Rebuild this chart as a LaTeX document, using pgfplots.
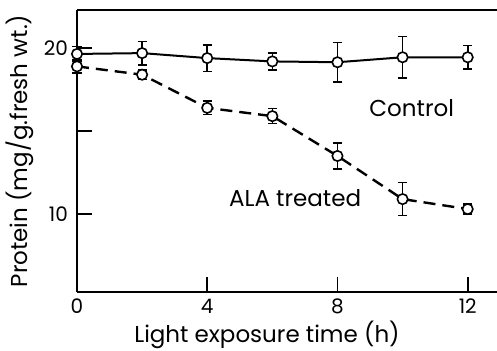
\documentclass[border=0pt]{standalone}
\usepackage{pgfplots}
\pgfplotsset{compat=1.18}
\usepackage{fontspec}
\setmainfont{Poppins}
\begin{document}
\begin{tikzpicture}
\begin{axis}[
  scale only axis, width=210pt, height=141pt,
  xmin=0, xmax=12.9, ymin=5.3, ymax=22.3,
  axis x line=box, axis y line=left,
  axis line style={-, line width=0.9pt},
  xtick={0,4,8,12}, ytick={10,15,20}, yticklabels={10,,20},
  tick align=inside, major tick length=7.5pt,
  tick style={line width=0.8pt, black},
  xtick pos=lower, ytick pos=left,
  /pgf/number format/assume math mode=true,
  ticklabel style={font=\fontsize{10}{12}\selectfont},
  yticklabel style={xshift=-1pt},
  xlabel={Light exposure time (h)},
  ylabel={Protein (mg/g.fresh wt.)},
  label style={font=\fontsize{11.5}{13}\selectfont},
  xlabel style={yshift=3.5pt, xshift=-10pt},
  ylabel style={yshift=-2pt},
  clip=false,
]
\addplot[black, line width=1pt, mark=*, mark size=2.6pt, mark options={fill=white, line width=0.8pt},
  error bars/.cd, y dir=both, y explicit,
  error bar style={line width=0.8pt},
  error mark options={rotate=90, mark size=2.3pt, line width=0.8pt}]
  coordinates {
  (0,19.65) +- (0,0.45)
  (2,19.7) +- (0,0.7)
  (4,19.4) +- (0,0.8)
  (6,19.2) +- (0,0.5)
  (8,19.15) +- (0,1.2)
  (10,19.45) +- (0,1.25)
  (12,19.45) +- (0,0.7)
  };
\addplot[black, line width=1.2pt, dash pattern=on 6pt off 3.5pt, mark=*, mark size=2.6pt, mark options={solid, fill=white, line width=0.8pt},
  error bars/.cd, y dir=both, y explicit,
  error bar style={solid, line width=0.8pt},
  error mark options={solid, rotate=90, mark size=2.3pt, line width=0.8pt}]
  coordinates {
  (0,18.9) +- (0,0.4)
  (2,18.4) +- (0,0.3)
  (4,16.4) +- (0,0.4)
  (6,15.9) +- (0,0.45)
  (8,13.5) +- (0,0.8)
  (10,10.9) +- (0,1.0)
  (12,10.3) +- (0,0.3)
  };
\node[font=\fontsize{11.5}{13}\selectfont] at (axis cs:10.28,16.4) {Control};
\node[font=\fontsize{11.5}{13}\selectfont] at (axis cs:6.7,10.96) {ALA treated};
\end{axis}
\pgfresetboundingbox
\path ([xshift=-38.5pt,yshift=-29.5pt]current axis.south west) rectangle ([yshift=5pt]current axis.north east);
\end{tikzpicture}
\end{document}
